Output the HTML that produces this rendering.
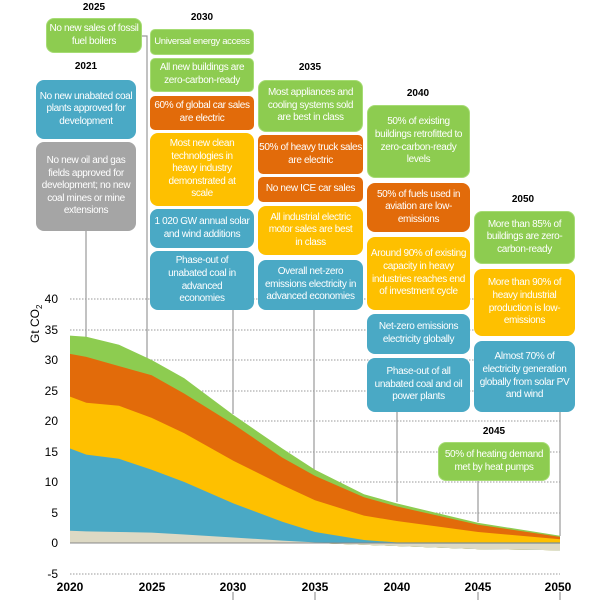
<!DOCTYPE html>
<html><head><meta charset="utf-8"><style>
body{margin:0;width:600px;height:600px;background:#fff;position:relative;overflow:hidden;font-family:"Liberation Sans",sans-serif}
.b{position:absolute;display:flex;align-items:center;justify-content:center;text-align:center;color:#fff;font-size:10px;line-height:12.6px;letter-spacing:-0.35px;border-radius:8px;box-sizing:border-box;padding:0 1px}
.g{background:#8dcc50;border:1px solid #a6dc74}
.o{background:#e26b0a}
.y{background:#fec000}
.u{background:#4aa9c5}
.k{background:#a5a5a5}
.l{position:absolute;font-weight:bold;font-size:10px;color:#000;transform:translateX(-50%)}
svg{position:absolute;left:0;top:0}
</style></head><body>
<svg width="600" height="600" font-family="Liberation Sans, sans-serif">
<g stroke="#999" stroke-width="1" stroke-dasharray="1.5,1.5">
<line x1="70" x2="560" y1="299" y2="299"/><line x1="70" x2="560" y1="330" y2="330"/><line x1="70" x2="560" y1="360" y2="360"/><line x1="70" x2="560" y1="391" y2="391"/><line x1="70" x2="560" y1="421" y2="421"/><line x1="70" x2="560" y1="452" y2="452"/><line x1="70" x2="560" y1="482" y2="482"/><line x1="70" x2="560" y1="513" y2="513"/><line x1="70" x2="560" y1="574" y2="574"/>
</g>
<g stroke="#999" stroke-width="1.2">
<line x1="86" y1="231" x2="86" y2="338"/>
<polyline fill="none" points="142,36 147,36 147,362"/>
<line x1="233" y1="310" x2="233" y2="414"/>
<line x1="314" y1="310" x2="314" y2="490"/>
<line x1="397" y1="412" x2="397" y2="502"/>
<line x1="478" y1="481" x2="478" y2="522"/>
<line x1="560" y1="412" x2="560" y2="536"/>
<line x1="233" y1="592" x2="233" y2="600"/><line x1="315" y1="592" x2="315" y2="600"/><line x1="478" y1="592" x2="478" y2="600"/><line x1="560" y1="592" x2="560" y2="600"/>
</g>
<polygon fill="#8dcc50" points="70,335.6 86.3,336.8 119,344.8 151.7,360 184.3,378.3 233.3,414.9 282.3,448.5 315,469.8 364,494.2 396.7,503.4 478.3,522.9 560,535.7 560,550.3 478.3,549.1 396.7,546 364,544.8 315,543 70,543"/>
<polygon fill="#e26b0a" points="70,353.9 86.3,356.9 119,366.1 151.7,375.3 184.3,393.6 233.3,424.1 282.3,457.6 315,475.9 364,497.3 396.7,506.4 478.3,524.7 560,536.9 560,550.3 478.3,549.1 396.7,546 364,544.8 315,543 70,543"/>
<polygon fill="#fec000" points="70,396.6 86.3,402.7 119,405.8 151.7,417.9 184.3,433.2 233.3,460.7 282.3,485.1 315,500.3 364,515.6 396.7,521 478.3,532 560,539.3 560,550.3 478.3,549.1 396.7,546 364,544.8 315,543 70,543"/>
<polygon fill="#4aa9c5" points="70,448.5 86.3,454.6 119,458.8 151.7,469.8 184.3,482 233.3,503.4 282.3,521.7 315,532 364,540 396.7,542.4 478.3,542.4 560,542.4 560,550.3 478.3,549.1 396.7,546 364,544.8 315,543 70,543"/>
<polygon fill="#ddd9c4" points="70,530.8 86.3,531.4 119,532 151.7,532.6 184.3,534.5 233.3,537.5 282.3,540.6 315,542.4 364,543 396.7,543.6 478.3,543.6 560,543.6 560,550.3 478.3,549.1 396.7,546 364,544.8 315,543 70,543"/>
<line x1="70" y1="543" x2="560" y2="543" stroke="#888" stroke-width="1"/>
<g font-size="12" fill="#000" text-anchor="end">
<text x="58" y="303">40</text><text x="58" y="334">35</text><text x="58" y="364">30</text><text x="58" y="395">25</text><text x="58" y="425">20</text><text x="58" y="456">15</text><text x="58" y="486">10</text><text x="58" y="517">5</text><text x="58" y="547">0</text><text x="58" y="578">-5</text>
</g>
<g font-size="12" font-weight="bold" fill="#000" text-anchor="middle">
<text x="70" y="591">2020</text><text x="152" y="591">2025</text><text x="233" y="591">2030</text><text x="315" y="591">2035</text><text x="397" y="591">2040</text><text x="478" y="591">2045</text><text x="558" y="591">2050</text>
</g>
<text transform="translate(39,343) rotate(-90)" font-size="12" fill="#000">Gt CO<tspan font-size="8" dy="3">2</tspan></text>
</svg>
<div class="l" style="left:94px;top:2px">2025</div>
<div class="l" style="left:202px;top:12px">2030</div>
<div class="l" style="left:86px;top:61px">2021</div>
<div class="l" style="left:310px;top:62px">2035</div>
<div class="l" style="left:418px;top:88px">2040</div>
<div class="l" style="left:523px;top:194px">2050</div>
<div class="l" style="left:494px;top:426px">2045</div>

<div class="b g" style="left:46px;top:18px;width:96px;height:35px">No new sales of fossil fuel boilers</div>
<div class="b g" style="left:150px;top:29px;width:104px;height:26px;border-radius:5px;font-size:9.5px;padding:0;white-space:nowrap">Universal energy access</div>
<div class="b g" style="left:150px;top:58px;width:104px;height:34px;border-radius:5px">All new buildings are zero-carbon-ready</div>
<div class="b o" style="left:150px;top:96px;width:104px;height:34px;border-radius:5px">60% of global car sales are electric</div>
<div class="b y" style="left:150px;top:133px;width:104px;height:73px;padding:0 12px">Most new clean technologies in heavy industry demonstrated at scale</div>
<div class="b u" style="left:150px;top:209px;width:104px;height:39px">1 020 GW annual solar and wind additions</div>
<div class="b u" style="left:150px;top:251px;width:104px;height:59px;padding:0 12px">Phase-out of unabated coal in advanced economies</div>
<div class="b u" style="left:36px;top:80px;width:100px;height:59px">No new unabated coal plants approved for development</div>
<div class="b k" style="left:36px;top:142px;width:100px;height:89px">No new oil and gas fields approved for development; no new coal mines or mine extensions</div>
<div class="b g" style="left:258px;top:80px;width:105px;height:52px">Most appliances and cooling systems sold are best in class</div>
<div class="b o" style="left:258px;top:135px;width:105px;height:39px;border-radius:5px">50% of heavy truck sales are electric</div>
<div class="b o" style="left:258px;top:177px;width:105px;height:25px;border-radius:5px">No new ICE car sales</div>
<div class="b y" style="left:258px;top:206px;width:105px;height:49px;padding:0 8px">All industrial electric motor sales are best in class</div>
<div class="b u" style="left:258px;top:260px;width:105px;height:50px">Overall net-zero emissions electricity in advanced economies</div>
<div class="b g" style="left:367px;top:105px;width:103px;height:73px">50% of existing buildings retrofitted to zero-carbon-ready levels</div>
<div class="b o" style="left:367px;top:183px;width:103px;height:49px;padding:0 8px">50% of fuels used in aviation are low-emissions</div>
<div class="b y" style="left:367px;top:237px;width:103px;height:73px">Around 90% of existing capacity in heavy industries reaches end of investment cycle</div>
<div class="b u" style="left:367px;top:314px;width:103px;height:40px">Net-zero emissions electricity globally</div>
<div class="b u" style="left:367px;top:358px;width:103px;height:54px">Phase-out of all unabated coal and oil power plants</div>
<div class="b g" style="left:474px;top:211px;width:101px;height:53px">More than 85% of buildings are zero-carbon-ready</div>
<div class="b y" style="left:474px;top:269px;width:101px;height:67px">More than 90% of heavy industrial production is low-emissions</div>
<div class="b u" style="left:474px;top:341px;width:101px;height:71px">Almost 70% of electricity generation globally from solar PV and wind</div>
<div class="b g" style="left:438px;top:442px;width:112px;height:39px">50% of heating demand met by heat pumps</div>
</body></html>
